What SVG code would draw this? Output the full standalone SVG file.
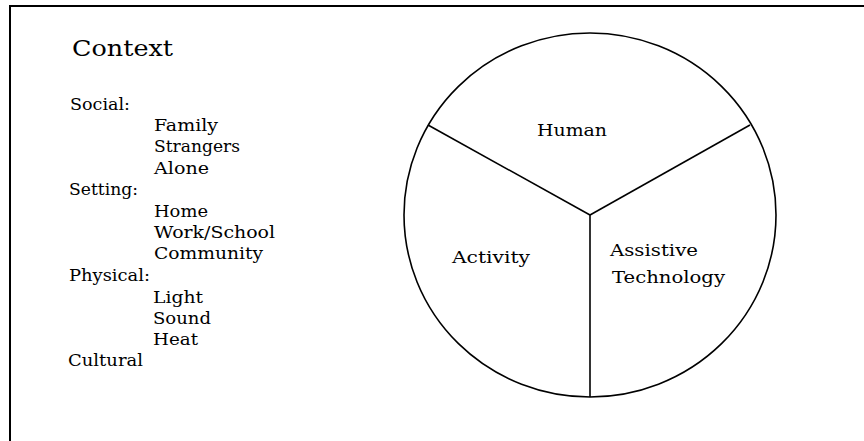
<svg xmlns="http://www.w3.org/2000/svg" width="864" height="441" viewBox="0 0 864 441">
  <style>
    text { font-family: "DejaVu Serif", "Liberation Serif", serif; fill: #000; }
    .title { font-size: 23px; }
    .item { font-size: 16.5px; }
    .frame { stroke: #000; stroke-width: 2; fill: none; }
    .ring { stroke: #000; stroke-width: 1.6; fill: none; }
  </style>
  <rect width="864" height="441" fill="#fff"/>

  <!-- outer frame (top and left edges) -->
  <path class="frame" d="M10,441 V6 H864"/>

  <!-- context list -->
  <g id="context">
    <text class="title" x="72" y="56" textLength="101" lengthAdjust="spacingAndGlyphs">Context</text>
    <text class="item" x="70" y="110" textLength="60" lengthAdjust="spacingAndGlyphs">Social:</text>
    <text class="item" x="154" y="131" textLength="64" lengthAdjust="spacingAndGlyphs">Family</text>
    <text class="item" x="154" y="152" textLength="86" lengthAdjust="spacingAndGlyphs">Strangers</text>
    <text class="item" x="154" y="174" textLength="55" lengthAdjust="spacingAndGlyphs">Alone</text>
    <text class="item" x="69" y="195" textLength="69" lengthAdjust="spacingAndGlyphs">Setting:</text>
    <text class="item" x="154" y="217" textLength="54" lengthAdjust="spacingAndGlyphs">Home</text>
    <text class="item" x="154" y="238" textLength="121" lengthAdjust="spacingAndGlyphs">Work/School</text>
    <text class="item" x="154" y="259" textLength="109" lengthAdjust="spacingAndGlyphs">Community</text>
    <text class="item" x="69" y="281" textLength="81" lengthAdjust="spacingAndGlyphs">Physical:</text>
    <text class="item" x="153" y="303" textLength="50" lengthAdjust="spacingAndGlyphs">Light</text>
    <text class="item" x="153" y="324" textLength="58" lengthAdjust="spacingAndGlyphs">Sound</text>
    <text class="item" x="153" y="345" textLength="45" lengthAdjust="spacingAndGlyphs">Heat</text>
    <text class="item" x="68" y="366" textLength="75" lengthAdjust="spacingAndGlyphs">Cultural</text>
  </g>

  <!-- circle and its three dividers -->
  <g id="circle">
    <ellipse class="ring" cx="590" cy="215" rx="186" ry="182"/>
  </g>
  <g id="connectors">
    <line class="ring" x1="590" y1="215" x2="428" y2="125"/>
    <line class="ring" x1="590" y1="215" x2="750" y2="125"/>
    <line class="ring" x1="590" y1="215" x2="590" y2="397"/>
  </g>

  <g id="human">
    <text class="item" x="537" y="136" textLength="70" lengthAdjust="spacingAndGlyphs">Human</text>
  </g>
  <g id="activity">
    <text class="item" x="452" y="263" textLength="78" lengthAdjust="spacingAndGlyphs">Activity</text>
  </g>
  <g id="assistive-technology">
    <text class="item" x="610" y="256" textLength="88" lengthAdjust="spacingAndGlyphs">Assistive</text>
    <text class="item" x="612" y="283" textLength="113" lengthAdjust="spacingAndGlyphs">Technology</text>
  </g>
</svg>
